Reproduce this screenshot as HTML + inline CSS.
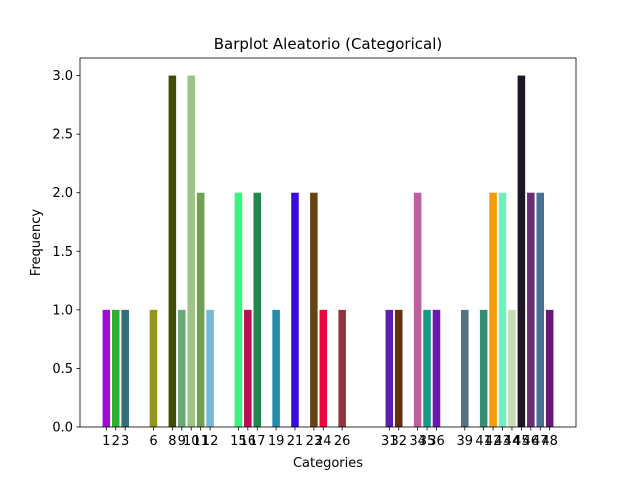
<!DOCTYPE html>
<html><head><meta charset="utf-8"><style>
body{margin:0;background:#fff;font-family:"Liberation Sans","DejaVu Sans",sans-serif}
text{font-family:"DejaVu Sans","Liberation Sans",sans-serif}
</style></head><body>
<svg id="chart" width="640" height="480" xmlns="http://www.w3.org/2000/svg"></svg>
<script>
const categories=[1,2,3,6,8,9,10,11,12,15,16,17,19,21,23,24,26,31,32,34,35,36,39,41,42,43,44,45,46,47,48];
const values=[1,1,1,1,3,1,3,2,1,2,1,2,1,2,2,1,1,1,1,2,1,1,1,1,2,2,1,3,2,2,1];
const colors=["#a00bd8","#2bb22f","#356e7a","#92951f","#434c06","#6aaa76","#9fc286","#739f55","#73bbd3","#38f57b","#b90f55","#228751","#238db0","#380cd8","#634412","#ee043f","#90363c","#5a1fab","#632e12","#c05fa0","#179a8a","#6e16b2","#557182","#378c76","#f29c06","#6ff0bd","#c9dcb6","#1e1622","#672e76","#477293","#65177b"];
const yTicks=[0,0.5,1.0,1.5,2.0,2.5,3.0];
const svg=document.getElementById('chart');
const NS='http://www.w3.org/2000/svg';
const L=80,R=576,T=58,B=427;
const xmin=-1.79,xmax=50.79,ymax=3.15;
const x=v=>L+(v-xmin)/(xmax-xmin)*(R-L);
const y=v=>B-v/ymax*(B-T);
function mk(tag,attrs,txt){const e=document.createElementNS(NS,tag);for(const k in attrs)e.setAttribute(k,attrs[k]);if(txt!==undefined)e.textContent=txt;svg.appendChild(e);return e;}
categories.forEach((c,i)=>{
  const r=mk('rect',{x:x(c-0.4),y:y(values[i]),width:x(c+0.4)-x(c-0.4),height:B-y(values[i]),fill:colors[i]});
  
  
  const t=mk('line',{x1:x(c),x2:x(c),y1:B,y2:B+3.5,stroke:'#000','stroke-width':0.8});
  
  
  const l=mk('text',{x:x(c),y:B+18,'text-anchor':'middle','font-size':13},String(c));
  
  
});
yTicks.forEach(v=>{
  const t=mk('line',{x1:L-3.5,x2:L,y1:y(v),y2:y(v),stroke:'#000','stroke-width':0.8});
  
  
  const l=mk('text',{x:L-7,y:y(v)+4.5,'text-anchor':'end','font-size':13},v.toFixed(1));
  
  
});
const f=mk('rect',{x:L,y:T,width:R-L,height:B-T,fill:'none',stroke:'#000','stroke-width':0.8});


const ti=mk('text',{x:(L+R)/2,y:49,'text-anchor':'middle','font-size':15},'Barplot Aleatorio (Categorical)');


const xt=mk('text',{x:(L+R)/2,y:467,'text-anchor':'middle','font-size':13},'Categories');


const yt=mk('text',{x:40,y:(T+B)/2,'text-anchor':'middle','font-size':13,transform:'rotate(-90 40 '+((T+B)/2)+')'},'Frequency');


</script>
</body></html>
